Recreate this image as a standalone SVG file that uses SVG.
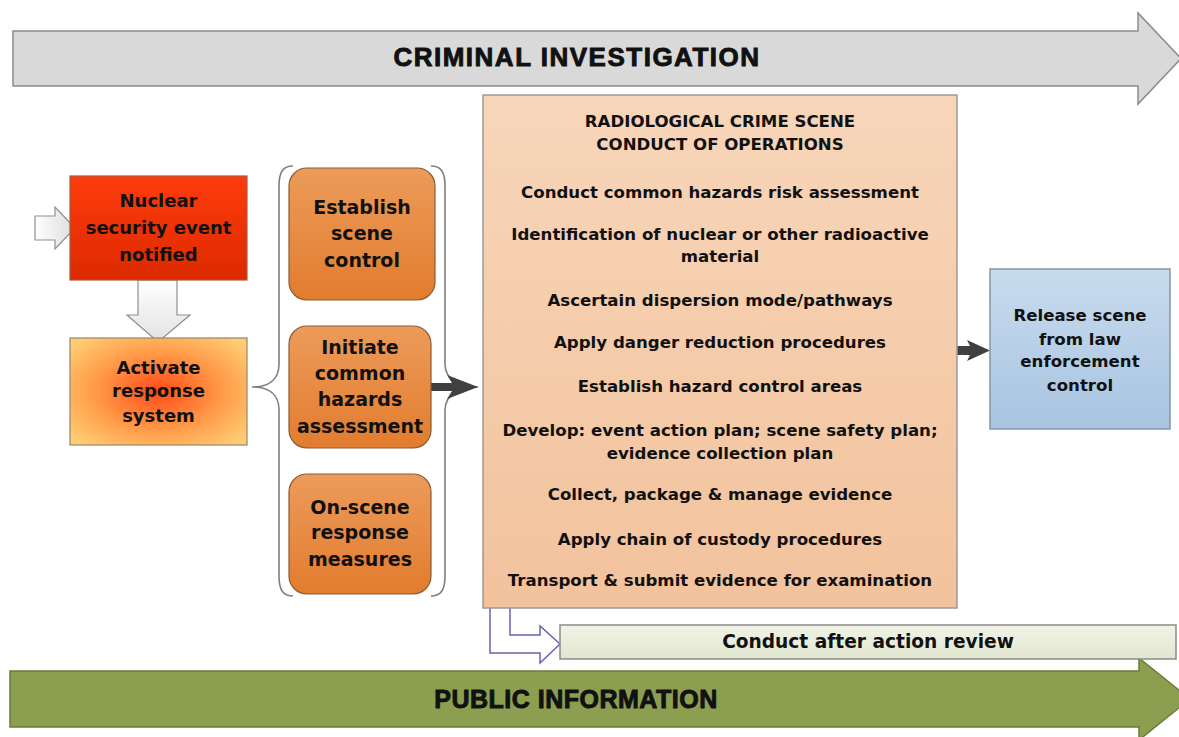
<svg xmlns="http://www.w3.org/2000/svg" width="1179" height="737" viewBox="0 0 1179 737">
<defs>
<linearGradient id="gRed" x1="0" y1="0" x2="0" y2="1"><stop offset="0" stop-color="#ff3b0c"/><stop offset="1" stop-color="#dc2a00"/></linearGradient>
<radialGradient id="gAct" cx="0.5" cy="0.5" r="0.65"><stop offset="0" stop-color="#ff4a18"/><stop offset="0.55" stop-color="#ff9a48"/><stop offset="1" stop-color="#ffcd74"/></radialGradient>
<linearGradient id="gOr" x1="0" y1="0" x2="0" y2="1"><stop offset="0" stop-color="#ec9b5a"/><stop offset="1" stop-color="#e27c2e"/></linearGradient>
<linearGradient id="gMain" x1="0" y1="0" x2="0" y2="1"><stop offset="0" stop-color="#f8d6ba"/><stop offset="1" stop-color="#f2c29c"/></linearGradient>
<linearGradient id="gBlue" x1="0" y1="0" x2="0" y2="1"><stop offset="0" stop-color="#c8dbed"/><stop offset="1" stop-color="#a8c4e1"/></linearGradient>
<linearGradient id="gAar" x1="0" y1="0" x2="0" y2="1"><stop offset="0" stop-color="#f1f3e6"/><stop offset="1" stop-color="#e1e7cf"/></linearGradient>
<linearGradient id="gBlk" x1="0" y1="0" x2="1" y2="0"><stop offset="0" stop-color="#ffffff"/><stop offset="1" stop-color="#dcdcdc"/></linearGradient>
<linearGradient id="gBlkV" x1="0" y1="0" x2="0" y2="1"><stop offset="0" stop-color="#ffffff"/><stop offset="1" stop-color="#e2e2e2"/></linearGradient>
</defs>
<style>
text{font-family:"DejaVu Sans","Liberation Sans",sans-serif;font-weight:bold;fill:#111;text-anchor:middle}
.band{font-family:"Liberation Sans",Arial,sans-serif;stroke:#111;stroke-width:0.9}
.t18{font-size:18px}
.t19{font-size:19px}
.t16{font-size:16.6px}
.t17{font-size:16.6px}
.brace{fill:none;stroke:#7f7f7f;stroke-width:1.6}
.dark{fill:#404040}
</style>

<g id="criminal-investigation">
<path d="M13,31 H1138 V13 L1181,58.5 L1138,104 V86 H13 Z" fill="#d9d9d9" stroke="#8c8c8c" stroke-width="1.5"/>
<text class="band" x="577" y="66" font-size="26" letter-spacing="1.5">CRIMINAL INVESTIGATION</text>
</g>

<g id="public-information">
<path d="M10,671 H1139 V658 L1190,699 L1139,740 V727 H10 Z" fill="#8c9f50" stroke="#6a7a3a" stroke-width="1.5"/>
<text class="band" x="576" y="708" font-size="25" letter-spacing="0.5">PUBLIC INFORMATION</text>
</g>

<g id="connectors">
<path d="M35,216 H55 V207 L75,228 L55,249 V240 H35 Z" fill="url(#gBlk)" stroke="#8f8f8f" stroke-width="1.2"/>
<path d="M138,280 H177 V315 H190 L158,342 L127,315 H138 Z" fill="url(#gBlkV)" stroke="#8f8f8f" stroke-width="1.2"/>
<path class="brace" d="M293,166 C283,166 279,172 279,186 V364 C279,380 268,387 252,387 C268,387 279,394 279,410 V576 C279,590 283,596 293,596"/>
<path class="brace" d="M431,166 C441,166 445,172 445,186 V364 C445,380 460,387 478,387 C460,387 445,394 445,410 V576 C445,590 441,596 431,596"/>
<path class="dark" d="M431,383 H452 L447,375 L478,387 L447,399 L452,391 H431 Z"/>
<path class="dark" d="M957,346 H970 L967,340 L990,350.5 L967,361 L970,355 H957 Z"/>
<path d="M490,608 V653 H540 V663 L560,644 L540,626 V635 H510 V608" fill="#ffffff" stroke="#6464b4" stroke-width="1.5"/>
</g>

<g id="nuclear-security-event">
<rect x="70" y="176" width="177" height="104" fill="url(#gRed)" stroke="#a85a3c" stroke-width="1.2"/>
<text class="t18" x="158.5" y="206.5">Nuclear</text>
<text class="t18" x="158.5" y="234">security event</text>
<text class="t18" x="158.5" y="261">notified</text>
</g>

<g id="activate-response">
<rect x="70" y="338" width="177" height="107" fill="url(#gAct)" stroke="#9a8468" stroke-width="1.2"/>
<text class="t18" x="158.5" y="373.5">Activate</text>
<text class="t18" x="158.5" y="397">response</text>
<text class="t18" x="158.5" y="422">system</text>
</g>

<g id="establish-scene-control">
<rect x="289" y="168" width="146" height="132" rx="18" fill="url(#gOr)" stroke="#8a5a34" stroke-width="1.2"/>
<text class="t19" x="362" y="213.5">Establish</text>
<text class="t19" x="362" y="240">scene</text>
<text class="t19" x="362" y="266.5">control</text>
</g>

<g id="initiate-common-hazards">
<rect x="289" y="326" width="142" height="122" rx="18" fill="url(#gOr)" stroke="#8a5a34" stroke-width="1.2"/>
<text class="t19" x="360" y="354">Initiate</text>
<text class="t19" x="360" y="380">common</text>
<text class="t19" x="360" y="406">hazards</text>
<text class="t19" x="360" y="432.5">assessment</text>
</g>

<g id="on-scene-response">
<rect x="289" y="474" width="142" height="120" rx="18" fill="url(#gOr)" stroke="#8a5a34" stroke-width="1.2"/>
<text class="t19" x="360" y="514">On-scene</text>
<text class="t19" x="360" y="539">response</text>
<text class="t19" x="360" y="565.5">measures</text>
</g>

<g id="radiological-crime-scene">
<rect x="483" y="95" width="474" height="513" fill="url(#gMain)" stroke="#9a9a9a" stroke-width="1.5"/>
<text class="t16" x="720" y="127">RADIOLOGICAL CRIME SCENE</text>
<text class="t16" x="720" y="150">CONDUCT OF OPERATIONS</text>
<text class="t16" x="720" y="198">Conduct common hazards risk assessment</text>
<text class="t16" x="720" y="240">Identification of nuclear or other radioactive</text>
<text class="t16" x="720" y="262">material</text>
<text class="t16" x="720" y="306">Ascertain dispersion mode/pathways</text>
<text class="t16" x="720" y="348">Apply danger reduction procedures</text>
<text class="t16" x="720" y="392">Establish hazard control areas</text>
<text class="t16" x="720" y="436">Develop: event action plan; scene safety plan;</text>
<text class="t16" x="720" y="459">evidence collection plan</text>
<text class="t16" x="720" y="500">Collect, package &amp; manage evidence</text>
<text class="t16" x="720" y="545">Apply chain of custody procedures</text>
<text class="t16" x="720" y="586">Transport &amp; submit evidence for examination</text>
</g>

<g id="release-scene">
<rect x="990" y="269" width="180" height="160" fill="url(#gBlue)" stroke="#8595a5" stroke-width="1.5"/>
<text class="t17" x="1080" y="321">Release scene</text>
<text class="t17" x="1080" y="345">from law</text>
<text class="t17" x="1080" y="367">enforcement</text>
<text class="t17" x="1080" y="391">control</text>
</g>

<g id="after-action-review">
<rect x="560" y="625" width="616" height="34" fill="url(#gAar)" stroke="#8a8a8a" stroke-width="1.5"/>
<text x="868" y="648" font-size="18.6">Conduct after action review</text>
</g>
</svg>
